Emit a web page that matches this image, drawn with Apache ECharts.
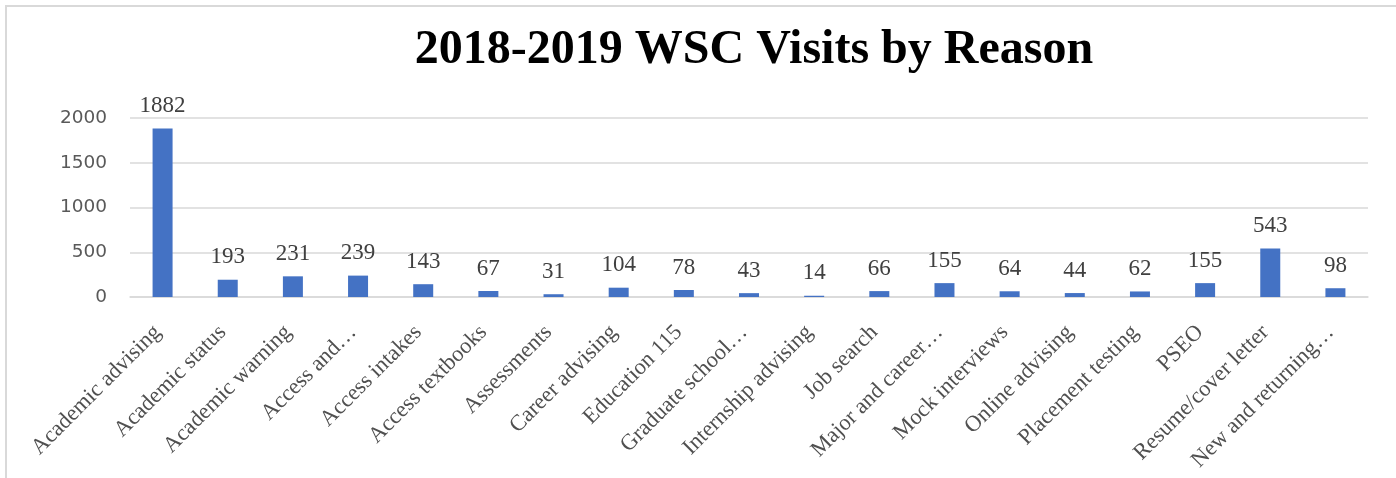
<!DOCTYPE html>
<html>
<head>
<meta charset="utf-8">
<style>
  html, body { margin: 0; padding: 0; background: #ffffff; }
  #chart { width: 1396px; height: 478px; }
</style>
<script src="https://cdn.jsdelivr.net/npm/echarts@6/dist/echarts.min.js"></script>
</head>
<body>
<div id="chart"></div>
<script>
// Visit reasons, in the order they appear along the axis
const reasons = [
  'Academic advising', 'Academic status', 'Academic warning', 'Access and…',
  'Access intakes', 'Access textbooks', 'Assessments', 'Career advising',
  'Education 115', 'Graduate school…', 'Internship advising', 'Job search',
  'Major and career…', 'Mock interviews', 'Online advising', 'Placement testing',
  'PSEO', 'Resume/cover letter', 'New and returning…'
];

// Number of visits per reason
const visits = [
  1882, 193, 231, 239, 143, 67, 31, 104, 78, 43,
  14, 66, 155, 64, 44, 62, 155, 543, 98
];

// Value axis ticks
const yTicks = [0, 500, 1000, 1500, 2000];

const serif = '"Liberation Serif", "Times New Roman", Times, serif';
const sans = '"DejaVu Sans", "Liberation Sans", Arial, sans-serif';

const chart = echarts.init(document.getElementById('chart'), null, { renderer: 'canvas' });

chart.setOption({
  animation: false,
  backgroundColor: '#ffffff',
  graphic: [{
    type: 'rect',
    silent: true,
    shape: { x: 6, y: 6, width: 1420, height: 500 },
    style: { fill: 'none', stroke: '#d9d9d9', lineWidth: 2 }
  }],
  title: {
    text: '2018-2019 WSC Visits by Reason',
    left: 749,
    top: 22,
    textAlign: 'center',
    textStyle: {
      fontFamily: serif,
      fontWeight: 'bold',
      fontSize: 48,
      color: '#000000'
    }
  },
  grid: { left: 130, right: 28, top: 118, bottom: 181 },
  xAxis: {
    type: 'category',
    data: reasons,
    axisLine: { show: true, lineStyle: { color: '#d9d9d9', width: 1.5 } },
    axisTick: { show: false },
    axisLabel: {
      interval: 0,
      rotate: 45,
      margin: 27,
      padding: [0, 7, 0, 0],
      fontFamily: serif,
      fontSize: 22.5,
      color: '#505050'
    }
  },
  yAxis: {
    type: 'value',
    min: yTicks[0],
    max: yTicks[yTicks.length - 1],
    interval: yTicks[1] - yTicks[0],
    axisLine: { show: false },
    axisTick: { show: false },
    splitLine: { lineStyle: { color: '#d9d9d9', width: 1.5 } },
    axisLabel: {
      margin: 23,
      formatter: (v) => String(v),
      fontFamily: sans,
      fontSize: 18.5,
      color: '#595959'
    }
  },
  series: [{
    type: 'bar',
    data: visits,
    barWidth: 20,
    itemStyle: { color: '#4472c4' },
    label: {
      show: true,
      position: 'top',
      distance: 11,
      fontFamily: serif,
      fontSize: 23,
      color: '#404040'
    }
  }]
});
</script>
</body>
</html>
